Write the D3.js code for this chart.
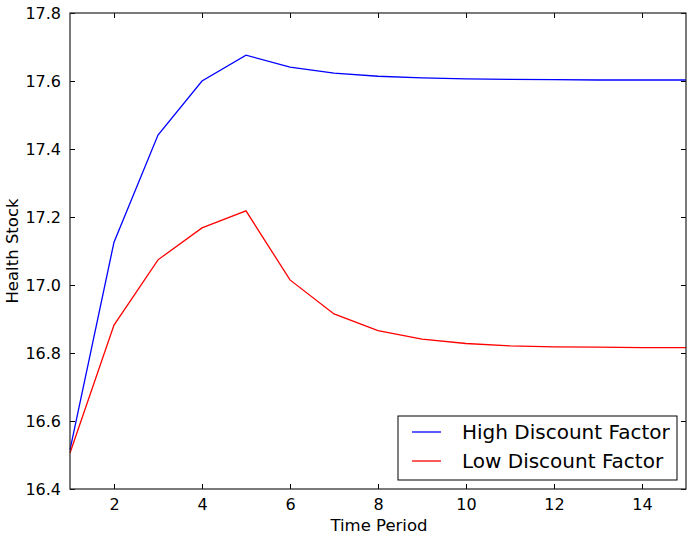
<!DOCTYPE html>
<html>
  <head>
    <meta charset="UTF-8" />
    <script src="https://d3js.org/d3.v7.min.js"></script>
    <style>
      body { margin: 0; background: #fff; }
      text { font-family: "DejaVu Sans", sans-serif; fill: #000; }
    </style>
  </head>
  <body>
    <svg width="688" height="537"></svg>

    <script>
      const periods = [1, 2, 3, 4, 5, 6, 7, 8, 9, 10, 11, 12, 13, 14, 15];
      const highDiscount = [16.515, 17.126, 17.441, 17.600, 17.676, 17.641, 17.623, 17.614, 17.609, 17.606, 17.605, 17.604, 17.603, 17.603, 17.603];
      const lowDiscount = [16.506, 16.882, 17.074, 17.168, 17.218, 17.015, 16.915, 16.866, 16.841, 16.828, 16.821, 16.818, 16.817, 16.816, 16.816];
      const xTicks = [2, 4, 6, 8, 10, 12, 14];
      const yTicks = [16.4, 16.6, 16.8, 17.0, 17.2, 17.4, 17.6, 17.8];

      const pLeft = 70, pRight = 686, pTop = 13, pBottom = 489;
      const svg = d3.select("svg");

      const x = d3.scaleLinear().domain([1, 15]).range([pLeft, pRight]);
      const y = d3.scaleLinear().domain([16.4, 17.8]).range([pBottom, pTop]);

      const line = d3.line()
        .x((d, i) => x(periods[i]))
        .y(d => y(d));

      svg.append("path")
        .datum(highDiscount)
        .attr("d", line)
        .attr("fill", "none")
        .attr("stroke", "#0000ff")
        .attr("stroke-width", 1.3);

      svg.append("path")
        .datum(lowDiscount)
        .attr("d", line)
        .attr("fill", "none")
        .attr("stroke", "#ff0000")
        .attr("stroke-width", 1.3);

      // axes, ticks pointing inward on all sides
      const bottomAxis = svg.append("g")
        .attr("transform", `translate(0,${pBottom})`)
        .call(d3.axisBottom(x).tickValues(xTicks).tickSize(-5).tickPadding(10).tickFormat(d3.format("d")));
      const topAxis = svg.append("g")
        .attr("transform", `translate(0,${pTop})`)
        .call(d3.axisTop(x).tickValues(xTicks).tickSize(-5).tickFormat(""));
      const leftAxis = svg.append("g")
        .attr("transform", `translate(${pLeft},0)`)
        .call(d3.axisLeft(y).tickValues(yTicks).tickSize(-5).tickPadding(9).tickFormat(d3.format(".1f")));
      const rightAxis = svg.append("g")
        .attr("transform", `translate(${pRight},0)`)
        .call(d3.axisRight(y).tickValues(yTicks).tickSize(-5).tickFormat(""));

      [bottomAxis, topAxis, leftAxis, rightAxis].forEach(g => {
        g.select(".domain").remove();
        g.selectAll(".tick line").attr("stroke", "#000");
        g.selectAll(".tick text").style("font-size", "16px").attr("fill", "#222");
      });

      svg.append("rect")
        .attr("x", pLeft).attr("y", pTop)
        .attr("width", pRight - pLeft).attr("height", pBottom - pTop)
        .attr("fill", "none")
        .attr("stroke", "#222")
        .attr("stroke-width", 1.2);

      svg.append("text")
        .attr("x", (pLeft + pRight) / 2 + 1).attr("y", 531)
        .attr("text-anchor", "middle")
        .style("font-size", "16.5px")
        .text("Time Period");

      svg.append("text")
        .attr("transform", `translate(18,${(pTop + pBottom) / 2}) rotate(-90)`)
        .attr("text-anchor", "middle")
        .style("font-size", "16.5px")
        .text("Health Stock");

      // legend
      const legend = svg.append("g");
      legend.append("rect")
        .attr("x", 398).attr("y", 416)
        .attr("width", 279).attr("height", 64)
        .attr("fill", "#fff")
        .attr("stroke", "#000");

      const entries = [
        { label: "High Discount Factor", color: "#0000ff" },
        { label: "Low Discount Factor", color: "#ff0000" }
      ];
      entries.forEach((e, i) => {
        const ly = 432 + i * 29;
        legend.append("line")
          .attr("x1", 412).attr("x2", 441)
          .attr("y1", ly).attr("y2", ly)
          .attr("stroke", e.color)
          .attr("stroke-width", 1.3);
        legend.append("text")
          .attr("x", 462).attr("y", ly + 7)
          .style("font-size", "20px")
          .attr("fill", "#222")
          .text(e.label);
      });
    </script>
  </body>
</html>
